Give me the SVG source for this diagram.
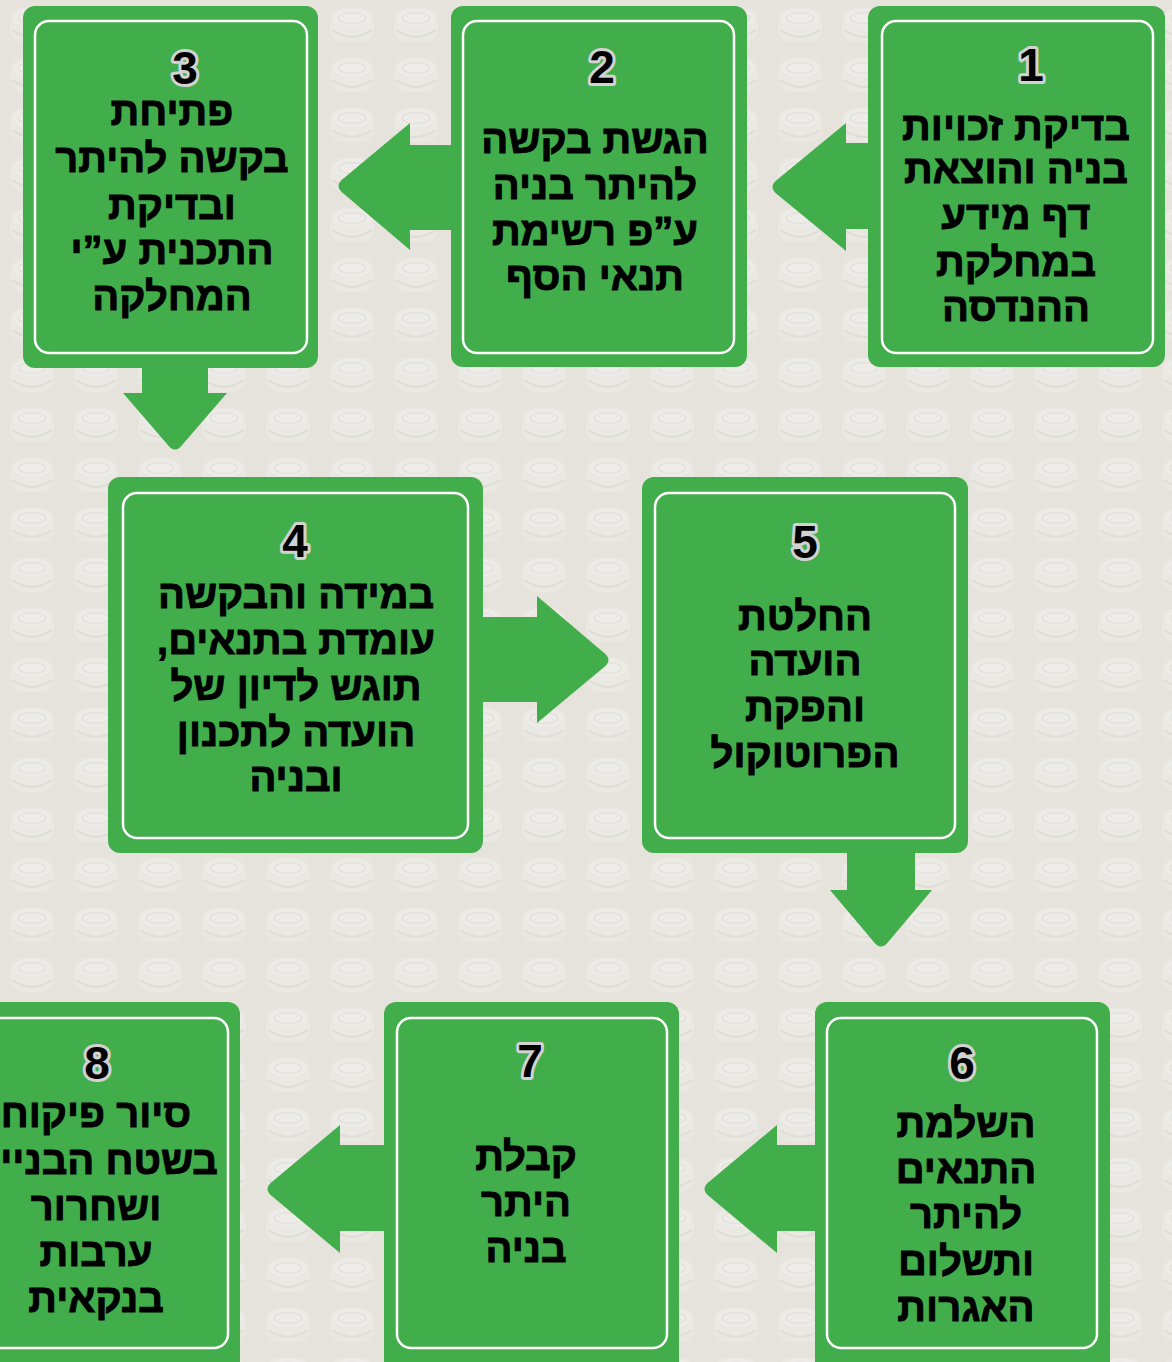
<svg xmlns="http://www.w3.org/2000/svg" width="1172" height="1362" viewBox="0 0 1172 1362">
<defs>
<pattern id="studs" x="0" y="0" width="64" height="50" patternUnits="userSpaceOnUse">
<rect width="64" height="50" fill="#e6e3dd"/>
<rect x="10" y="8" width="44" height="34" rx="14" fill="#eae8e3"/>
<ellipse cx="32" cy="18" rx="19" ry="9" fill="#eeece8"/>
<ellipse cx="32" cy="18" rx="14" ry="5.5" fill="none" stroke="#e4e1db" stroke-width="1.5"/>
<path d="M12,30 Q32,44 52,30" fill="none" stroke="#dfdcd5" stroke-width="2"/>
</pattern>
<style>
.outer{fill:#42ae4b}
.inner{fill:none;stroke:#ffffff;stroke-width:2.5}
.arrow{fill:#42ae4b}
.num{font-family:"Liberation Sans","DejaVu Sans",sans-serif;font-weight:bold;font-size:46px;fill:#000;stroke:#d2d2d2;stroke-width:6;paint-order:stroke;stroke-linejoin:round;text-anchor:middle}
.lbl{font-family:"Liberation Sans","DejaVu Sans",sans-serif;font-weight:bold;font-size:40px;fill:#000;stroke:#000;stroke-width:0.9;text-anchor:middle}
</style>
</defs>
<rect width="1172" height="1362" fill="url(#studs)"/>
<g id="connectors">
<path class="arrow" d="M872,143 L846,143 L846,123 L778,179 Q767,187 778,195 L846,251 L846,229 L872,229 Z"/>
<path class="arrow" d="M455,145 L410,145 L410,123 L344,178 Q333,186 344,194 L410,250 L410,230 L455,230 Z"/>
<path class="arrow" d="M142,364 L142,393 L123,393 L167,444 Q175,455 183,444 L227,393 L208,393 L208,364 Z"/>
<path class="arrow" d="M479,617 L537,617 L537,596 L603,652 Q614,660 603,668 L537,723 L537,702 L479,702 Z"/>
<path class="arrow" d="M847,849 L847,890 L830,890 L873,941 Q881,952 889,941 L932,890 L915,890 L915,849 Z"/>
<path class="arrow" d="M819,1145 L777,1145 L777,1125 L710,1181 Q699,1189 710,1197 L777,1253 L777,1231 L819,1231 Z"/>
<path class="arrow" d="M388,1145 L340,1145 L340,1125 L273,1181 Q262,1189 273,1197 L340,1253 L340,1231 L388,1231 Z"/>
</g>
<g id="node1">
<rect class="outer" x="868" y="6" width="297" height="361" rx="12"/>
<rect class="inner" x="882" y="21" width="271" height="332" rx="14"/>
<text class="num" x="1031" y="81">1</text>
<text class="lbl" direction="rtl" x="1016" y="140">בדיקת זכויות</text>
<text class="lbl" direction="rtl" x="1016" y="183">בניה והוצאת</text>
<text class="lbl" direction="rtl" x="1016" y="229">דף מידע</text>
<text class="lbl" direction="rtl" x="1016" y="276">במחלקת</text>
<text class="lbl" direction="rtl" x="1016" y="321">ההנדסה</text>
</g>
<g id="node2">
<rect class="outer" x="451" y="6" width="296" height="361" rx="12"/>
<rect class="inner" x="463" y="21" width="271" height="332" rx="14"/>
<text class="num" x="602" y="83">2</text>
<text class="lbl" direction="rtl" x="595" y="153">הגשת בקשה</text>
<text class="lbl" direction="rtl" x="595" y="199">להיתר בניה</text>
<text class="lbl" direction="rtl" x="595" y="245">ע”פ רשימת</text>
<text class="lbl" direction="rtl" x="595" y="290">תנאי הסף</text>
</g>
<g id="node3">
<rect class="outer" x="23" y="6" width="295" height="362" rx="12"/>
<rect class="inner" x="35" y="21" width="272" height="332" rx="14"/>
<text class="num" x="185" y="84">3</text>
<text class="lbl" direction="rtl" x="172" y="125">פתיחת</text>
<text class="lbl" direction="rtl" x="172" y="172">בקשה להיתר</text>
<text class="lbl" direction="rtl" x="172" y="219">ובדיקת</text>
<text class="lbl" direction="rtl" x="172" y="264">התכנית ע”י</text>
<text class="lbl" direction="rtl" x="172" y="310">המחלקה</text>
</g>
<g id="node4">
<rect class="outer" x="108" y="477" width="375" height="376" rx="12"/>
<rect class="inner" x="123" y="493" width="345" height="345" rx="14"/>
<text class="num" x="295" y="557">4</text>
<text class="lbl" direction="rtl" x="296" y="608">במידה והבקשה</text>
<text class="lbl" direction="rtl" x="296" y="654">עומדת בתנאים,</text>
<text class="lbl" direction="rtl" x="296" y="700">תוגש לדיון  של</text>
<text class="lbl" direction="rtl" x="296" y="746">הועדה לתכנון</text>
<text class="lbl" direction="rtl" x="296" y="791">ובניה</text>
</g>
<g id="node5">
<rect class="outer" x="642" y="477" width="326" height="376" rx="12"/>
<rect class="inner" x="655" y="493" width="300" height="345" rx="14"/>
<text class="num" x="805" y="558">5</text>
<text class="lbl" direction="rtl" x="805" y="630">החלטת</text>
<text class="lbl" direction="rtl" x="805" y="675">הועדה</text>
<text class="lbl" direction="rtl" x="805" y="721">והפקת</text>
<text class="lbl" direction="rtl" x="805" y="767">הפרוטוקול</text>
</g>
<g id="node6">
<rect class="outer" x="815" y="1002" width="295" height="373" rx="12"/>
<rect class="inner" x="827" y="1018" width="270" height="330" rx="14"/>
<text class="num" x="962" y="1079">6</text>
<text class="lbl" direction="rtl" x="966" y="1137">השלמת</text>
<text class="lbl" direction="rtl" x="966" y="1183">התנאים</text>
<text class="lbl" direction="rtl" x="966" y="1228">להיתר</text>
<text class="lbl" direction="rtl" x="966" y="1275">ותשלום</text>
<text class="lbl" direction="rtl" x="966" y="1321">האגרות</text>
</g>
<g id="node7">
<rect class="outer" x="384" y="1002" width="295" height="373" rx="12"/>
<rect class="inner" x="397" y="1018" width="270" height="330" rx="14"/>
<text class="num" x="530" y="1077">7</text>
<text class="lbl" direction="rtl" x="526" y="1170">קבלת</text>
<text class="lbl" direction="rtl" x="526" y="1216">היתר</text>
<text class="lbl" direction="rtl" x="526" y="1262">בניה</text>
</g>
<g id="node8">
<rect class="outer" x="-55" y="1002" width="295" height="373" rx="12"/>
<rect class="inner" x="-43" y="1018" width="271" height="330" rx="14"/>
<text class="num" x="97" y="1079">8</text>
<text class="lbl" direction="rtl" x="96" y="1127">סיור פיקוח</text>
<text class="lbl" direction="rtl" x="96" y="1174">בשטח הבנייה</text>
<text class="lbl" direction="rtl" x="96" y="1220">ושחרור</text>
<text class="lbl" direction="rtl" x="96" y="1266">ערבות</text>
<text class="lbl" direction="rtl" x="96" y="1312">בנקאית</text>
</g>
</svg>
